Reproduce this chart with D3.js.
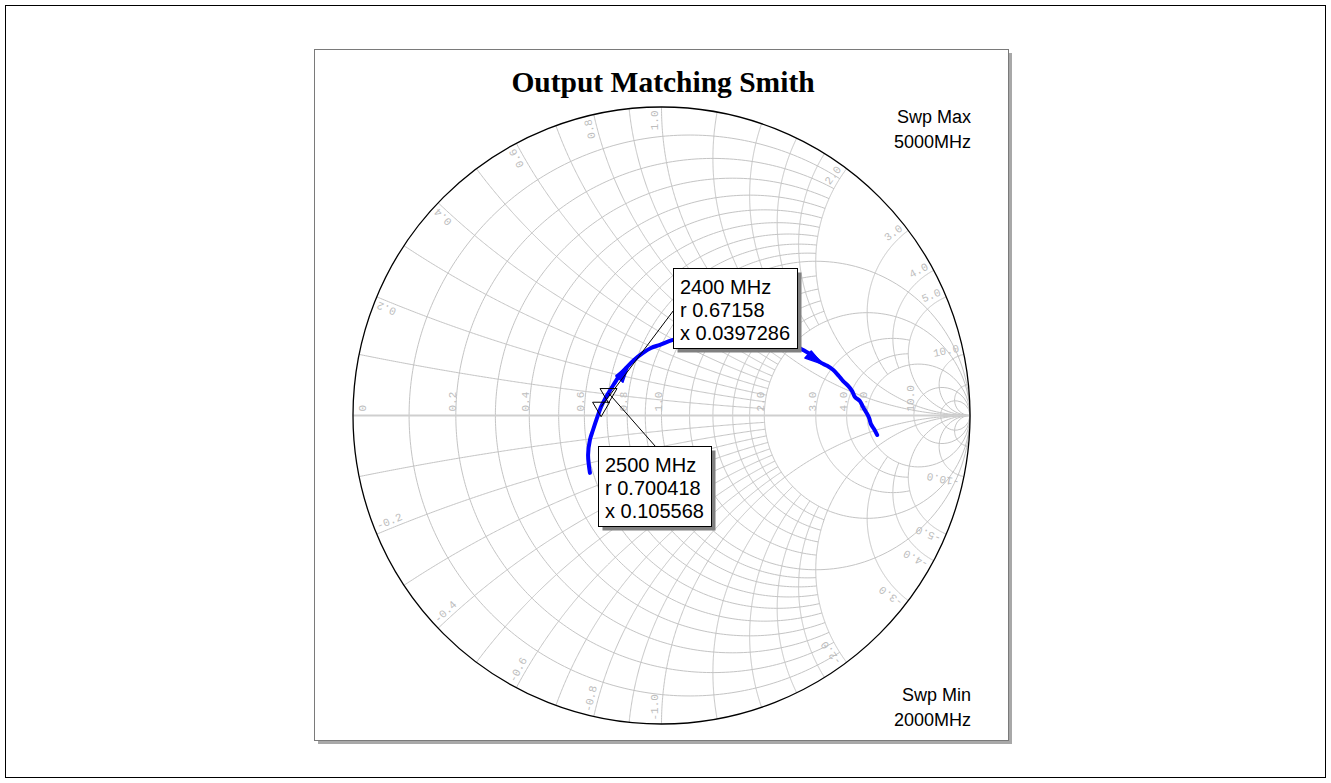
<!DOCTYPE html>
<html>
<head>
<meta charset="utf-8">
<script src="https://cdn.jsdelivr.net/npm/d3@7"></script>
<style>
  body { margin: 0; background: #fff; }
  svg { display: block; }
</style>
</head>
<body>
<div id="chart"></div>
<script>
// Smith grid: normalized resistance circles / reactance arcs
const rFine = [0.1, 0.2, 0.3, 0.4, 0.5, 0.6, 0.7, 0.8, 0.9, 1.2, 1.4, 1.6, 1.8]; // up to |x| = 2
const rMid = [3, 4];                                                        // up to |x| = 5
const rFull = [1, 2, 5, 10, 20];
const xFine = [0.1, 0.2, 0.3, 0.4, 0.5, 0.6, 0.7, 0.8, 0.9, 1.2, 1.4, 1.6, 1.8]; // up to r = 2
const xMid = [3, 4];                                                        // up to r = 5
const xFull = [1, 2, 5, 10, 20];

const rLabels = [0, 0.2, 0.4, 0.6, 0.8, 1.0, 2.0, 3.0, 4.0, 5.0, 10.0];
const xLabels = [0.2, 0.4, 0.6, 0.8, 1.0, 2.0, 3.0, 4.0, 5.0, 10.0];

// S22 trace, reflection coefficient, 2000 -> 5000 MHz
const traceRe = [-0.232, -0.238, -0.232, -0.222, -0.209, -0.196, -0.183, -0.170, -0.154, -0.135,
                 -0.112, -0.089, -0.060, -0.034, -0.005, 0.037, 0.125, 0.222, 0.319, 0.400,
                 0.459, 0.488, 0.514, 0.537, 0.556, 0.575, 0.588, 0.605, 0.618, 0.627,
                 0.643, 0.653, 0.663, 0.673, 0.679, 0.689, 0.699];
const traceIm = [-0.186, -0.128, -0.079, -0.047, -0.008, 0.028, 0.054, 0.076, 0.102, 0.131,
                 0.157, 0.180, 0.203, 0.219, 0.229, 0.245, 0.261, 0.267, 0.264, 0.245,
                 0.212, 0.196, 0.173, 0.161, 0.148, 0.128, 0.112, 0.096, 0.079, 0.060,
                 0.047, 0.028, 0.011, -0.008, -0.028, -0.044, -0.063];
const arrowAt = [10, 22];

// markers
const markerFreq = ['2400 MHz', '2500 MHz'];
const markerR = [0.67158, 0.700418];
const markerX = [0.0397286, 0.105568];

const W = 1331, H = 783;
const cx = 661.5, cy = 415.5, R = 308.5;

const svg = d3.select('#chart').append('svg')
    .attr('width', W)
    .attr('height', H);

// page border
svg.append('rect')
    .attr('x', 5.5).attr('y', 5.5)
    .attr('width', 1320).attr('height', 772)
    .attr('fill', 'none').attr('stroke', '#000');

// plot frame with shadow
svg.append('rect')
    .attr('x', 318).attr('y', 53)
    .attr('width', 694).attr('height', 691)
    .attr('fill', '#a8a8a8');
svg.append('rect')
    .attr('x', 314.5).attr('y', 49.5)
    .attr('width', 694).attr('height', 691)
    .attr('fill', '#fff').attr('stroke', '#7a7a7a');

const xScale = d3.scaleLinear().domain([-1, 1]).range([cx - R, cx + R]);
const yScale = d3.scaleLinear().domain([-1, 1]).range([cy + R, cy - R]);
const line = d3.line().x(d => xScale(d[0])).y(d => yScale(d[1]));

function gamma(r, x) {
    const den = (r + 1) * (r + 1) + x * x;
    return [(r * r - 1 + x * x) / den, (2 * x) / den];
}

function resistanceArc(r, xMax) {
    const a = Math.min(Math.atan(xMax), Math.PI / 2 - 1e-4);
    return d3.range(301).map(i => gamma(r, Math.tan(-a + 2 * a * i / 300)));
}

function reactanceArc(x, rMax) {
    const a = Math.min(Math.atan(rMax), Math.PI / 2 - 1e-4);
    return d3.range(301).map(i => gamma(Math.tan(a * i / 300), x));
}

const grid = svg.append('g')
    .attr('fill', 'none')
    .attr('stroke', '#c4c4c4')
    .attr('stroke-width', 1);

const gridSets = [
    [rFine, 2, 'r'], [rMid, 5, 'r'], [rFull, Infinity, 'r'],
    [xFine, 2, 'x'], [xMid, 5, 'x'], [xFull, Infinity, 'x']
];
gridSets.forEach(([vals, lim, kind]) => {
    vals.forEach(v => {
        if (kind === 'r') {
            grid.append('path').attr('d', line(resistanceArc(v, lim)));
        } else {
            grid.append('path').attr('d', line(reactanceArc(v, lim)));
            grid.append('path').attr('d', line(reactanceArc(-v, lim)));
        }
    });
});

// real axis
svg.append('line')
    .attr('x1', xScale(-1)).attr('y1', yScale(0))
    .attr('x2', xScale(1)).attr('y2', yScale(0))
    .attr('stroke', '#cfcfcf').attr('stroke-width', 2);

// outer rim
svg.append('circle')
    .attr('cx', xScale(0)).attr('cy', yScale(0))
    .attr('r', xScale(1) - xScale(0))
    .attr('fill', 'none').attr('stroke', '#000').attr('stroke-width', 1.3);

// grid labels
const labels = svg.append('g')
    .style('font-family', '"Liberation Mono", "Courier New", monospace')
    .style('font-size', '11px')
    .attr('fill', '#bdbdbd');

rLabels.forEach(r => {
    const px = xScale(gamma(r, 0)[0]) + (r === 0 ? 13 : 0);
    const py = yScale(0) - 4;
    labels.append('text')
        .attr('transform', `translate(${px},${py}) rotate(-90)`)
        .attr('text-anchor', 'start')
        .text(r === 0 ? '0' : r.toFixed(1));
});

xLabels.forEach(m => {
    [m, -m].forEach(x => {
        const g = gamma(0, x);
        const ex = xScale(g[0]), ey = yScale(g[1]);
        let ux = xScale(0) - ex, uy = yScale(0) - ey;
        const len = Math.hypot(ux, uy);
        ux /= len; uy /= len;
        let theta = Math.atan2(uy, ux) * 180 / Math.PI;
        if (x > 0) theta += 180;
        const t = theta * Math.PI / 180;
        const upx = Math.sin(t), upy = -Math.cos(t);
        const px = ex + ux * 3.5 + upx * 3.5;
        const py = ey + uy * 3.5 + upy * 3.5;
        labels.append('text')
            .attr('transform', `translate(${px},${py}) rotate(${theta})`)
            .attr('text-anchor', x > 0 ? 'end' : 'start')
            .text((x < 0 ? '-' : '') + m.toFixed(1));
    });
});

// trace
const trace = traceRe.map((g, i) => [g, traceIm[i]]);
svg.append('path')
    .attr('d', d3.line().x(d => xScale(d[0])).y(d => yScale(d[1])).curve(d3.curveCatmullRom)(trace))
    .attr('fill', 'none')
    .attr('stroke', '#0000ff')
    .attr('stroke-width', 4)
    .attr('stroke-linecap', 'round')
    .attr('stroke-linejoin', 'round');

// direction arrows on the trace
arrowAt.forEach(i => {
    const tx = xScale(trace[i][0]), ty = yScale(trace[i][1]);
    let dx = tx - xScale(trace[i - 1][0]), dy = ty - yScale(trace[i - 1][1]);
    const l = Math.hypot(dx, dy);
    dx /= l; dy /= l;
    const bx = tx - dx * 14, by = ty - dy * 14;
    svg.append('path')
        .attr('d', `M${tx + dx * 3},${ty + dy * 3}L${bx - dy * 7},${by + dx * 7}L${bx + dy * 2.5},${by - dx * 2.5}Z`)
        .attr('fill', '#0000ff')
        .attr('stroke', '#0000ff')
        .attr('stroke-width', 1.5)
        .attr('stroke-linejoin', 'round');
});

// Swp labels
const swp = svg.append('g')
    .style('font-family', 'Arial, "Liberation Sans", sans-serif')
    .style('font-size', '18px')
    .attr('text-anchor', 'end')
    .attr('fill', '#000');
swp.append('text').attr('x', 971).attr('y', 123).text('Swp Max');
swp.append('text').attr('x', 971).attr('y', 148).text('5000MHz');
swp.append('text').attr('x', 971).attr('y', 701).text('Swp Min');
swp.append('text').attr('x', 971).attr('y', 726).text('2000MHz');

// title
svg.append('text')
    .attr('x', 663).attr('y', 92)
    .attr('text-anchor', 'middle')
    .style('font-family', '"Times New Roman", "Liberation Serif", serif')
    .style('font-weight', 'bold')
    .style('font-size', '29.5px')
    .text('Output Matching Smith');

// markers and readout boxes
const markerLayout = [
    { dx: 72, dy: -139, lx: 0, ly: 42 },
    { dx: -10.5, dy: 53, lx: 57, ly: 0 }
];

markerFreq.forEach((f, i) => {
    const g = gamma(markerR[i], markerX[i]);
    const px = xScale(g[0]), py = yScale(g[1]);
    const lay = markerLayout[i];
    const bx = Math.round(px + lay.dx) + 0.5, by = Math.round(py + lay.dy) + 0.5;

    svg.append('line')
        .attr('x1', bx + lay.lx).attr('y1', by + lay.ly)
        .attr('x2', px).attr('y2', py)
        .attr('stroke', '#000').attr('stroke-width', 1);

    svg.append('path')
        .attr('d', `M${px - 8.5},${py - 4.5}L${px + 8.5},${py - 4.5}L${px},${py + 10}Z`)
        .attr('fill', 'none')
        .attr('stroke', '#000')
        .attr('stroke-width', 1);

    const lines = [f, 'r ' + markerR[i], 'x ' + markerX[i]];
    const shadow = svg.append('rect').attr('fill', '#808080');
    const box = svg.append('rect').attr('fill', '#fff').attr('stroke', '#000');
    const txt = svg.append('g')
        .style('font-family', 'Arial, "Liberation Sans", sans-serif')
        .style('font-size', '20px');
    let maxW = 0;
    lines.forEach((s, k) => {
        const t = txt.append('text')
            .attr('x', bx + 6.5)
            .attr('y', by + 25 + k * 23)
            .text(s);
        maxW = Math.max(maxW, t.node().getComputedTextLength());
    });
    const bw = Math.round(maxW + 14), bh = 80;
    box.attr('x', bx).attr('y', by).attr('width', bw).attr('height', bh);
    shadow.attr('x', bx + 4).attr('y', by + 4).attr('width', bw).attr('height', bh);
});
</script>
</body>
</html>
